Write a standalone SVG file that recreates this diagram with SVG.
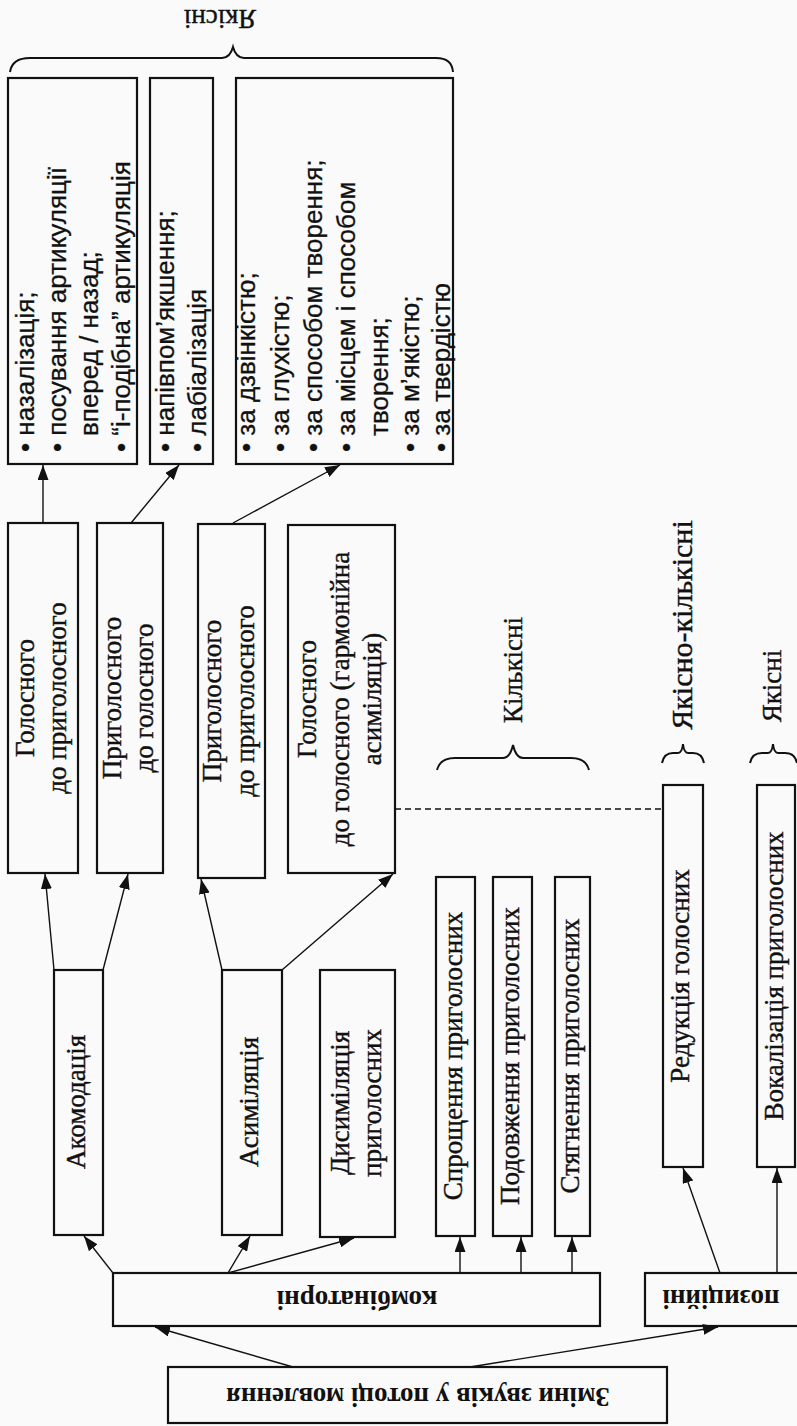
<svg xmlns="http://www.w3.org/2000/svg" width="797" height="1426" viewBox="0 0 797 1426">
<defs>
<style>
.bx{fill:none;stroke:#111;stroke-width:2.2}
.ln{fill:none;stroke:#111;stroke-width:1.4}
.br{fill:none;stroke:#111;stroke-width:2}
.sans{font-family:"Liberation Sans",Arial,sans-serif;font-size:26px;fill:#111;stroke:#111;stroke-width:0.3}
.serm{font-family:"Liberation Serif","Times New Roman",serif;font-size:27px;fill:#111;stroke:#111;stroke-width:0.4;text-anchor:middle}
.bold{font-family:"Liberation Serif","Times New Roman",serif;font-size:27px;font-weight:bold;fill:#111;text-anchor:middle}
</style>
<marker id="ah" viewBox="0 0 15 11" refX="15" refY="5.5" markerWidth="15" markerHeight="11" markerUnits="userSpaceOnUse" orient="auto">
<path d="M0,0 L15,5.5 L0,11 Z" fill="#111"/>
</marker>
</defs>
<rect x="0" y="0" width="797" height="1426" fill="#fafafa"/>

<g id="label-yakisni-top">
<path class="br" d="M10,72 Q12,58 30,58 L222,58 Q230,58 233,47 Q236,58 244,58 L436,58 Q452,58 453,72"/>
<text class="serm" transform="translate(220,10) rotate(180)">Якісні</text>
</g>

<g id="n-vowel-qualities">
<rect class="bx" x="8" y="78" width="129" height="386"/>
<text class="sans" transform="translate(34,452) rotate(-90)">• назалізація;</text>
<text class="sans" transform="translate(66,452) rotate(-90)">• посування артикуляції</text>
<text class="sans" transform="translate(98,436) rotate(-90)">вперед / назад;</text>
<text class="sans" transform="translate(130,452) rotate(-90)">• “і-подібна” артикуляція</text>
</g>

<g id="n-cons-vowel-qualities">
<rect class="bx" x="150" y="78" width="63" height="386"/>
<text class="sans" transform="translate(174,452) rotate(-90)">• напівпом’якшення;</text>
<text class="sans" transform="translate(206,452) rotate(-90)">• лабіалізація</text>
</g>

<g id="n-cons-cons-qualities">
<rect class="bx" x="236" y="78" width="217" height="386"/>
<text class="sans" transform="translate(255,452) rotate(-90)">• за дзвінкістю;</text>
<text class="sans" transform="translate(289,452) rotate(-90)">• за глухістю;</text>
<text class="sans" transform="translate(322,452) rotate(-90)">• за способом творення;</text>
<text class="sans" transform="translate(355,452) rotate(-90)">• за місцем і способом</text>
<text class="sans" transform="translate(388,436) rotate(-90)">творення;</text>
<text class="sans" transform="translate(419,452) rotate(-90)">• за м’якістю;</text>
<text class="sans" transform="translate(450,452) rotate(-90)">• за твердістю</text>
</g>

<g id="n-holosnoho-do-pryholosnoho">
<rect class="bx" x="8" y="523" width="70" height="350"/>
<text class="serm" transform="translate(34,698) rotate(-90)">Голосного</text>
<text class="serm" transform="translate(66,698) rotate(-90)">до приголосного</text>
</g>

<g id="n-pryholosnoho-do-holosnoho">
<rect class="bx" x="97" y="523" width="66" height="350"/>
<text class="serm" transform="translate(121,698) rotate(-90)">Приголосного</text>
<text class="serm" transform="translate(153,698) rotate(-90)">до голосного</text>
</g>

<g id="n-pryholosnoho-do-pryholosnoho">
<rect class="bx" x="198" y="524" width="67" height="354"/>
<text class="serm" transform="translate(221,701) rotate(-90)">Приголосного</text>
<text class="serm" transform="translate(254,701) rotate(-90)">до приголосного</text>
</g>

<g id="n-holosnoho-do-holosnoho">
<rect class="bx" x="288" y="525" width="107" height="348"/>
<text class="serm" transform="translate(316,699) rotate(-90)">Голосного</text>
<text class="serm" transform="translate(349,699) rotate(-90)">до голосного (гармонійна</text>
<text class="serm" transform="translate(381,699) rotate(-90)">асиміляція)</text>
</g>

<g id="n-akomodatsiia">
<rect class="bx" x="54" y="970" width="49" height="265"/>
<text class="serm" transform="translate(85,1102) rotate(-90)">Акомодація</text>
</g>

<g id="n-asymiliatsiia">
<rect class="bx" x="222" y="970" width="60" height="265"/>
<text class="serm" transform="translate(258,1102) rotate(-90)">Асиміляція</text>
</g>

<g id="n-dysymiliatsiia">
<rect class="bx" x="320" y="970" width="75" height="267"/>
<text class="serm" transform="translate(349,1103) rotate(-90)">Дисиміляція</text>
<text class="serm" transform="translate(381,1103) rotate(-90)">приголосних</text>
</g>

<g id="label-kilkisni">
<path class="br" d="M437,770 Q440,758 455,758 L503,758 Q510,758 513,745 Q516,758 523,758 L571,758 Q586,758 589,770"/>
<text class="serm" transform="translate(522,670) rotate(-90)">Кількісні</text>
</g>

<g id="n-sproshchennia">
<rect class="bx" x="436" y="877" width="39" height="359"/>
<text class="serm" transform="translate(462,1056) rotate(-90)">Спрощення приголосних</text>
</g>

<g id="n-podovzhennia">
<rect class="bx" x="493" y="877" width="39" height="359"/>
<text class="serm" transform="translate(519,1056) rotate(-90)">Подовження приголосних</text>
</g>

<g id="n-stiahnennia">
<rect class="bx" x="555" y="877" width="35" height="359"/>
<text class="serm" transform="translate(579,1056) rotate(-90)">Стягнення приголосних</text>
</g>

<g id="label-yakisno-kilkisni">
<path class="br" d="M662,763 Q664,753 673,753 L678,753 Q682,753 683,744 Q684,753 688,753 L693,753 Q702,753 704,763"/>
<text class="serm" transform="translate(692,625) rotate(-90)" style="font-size:30px">Якісно-кількісні</text>
</g>

<g id="n-reduktsiia">
<rect class="bx" x="663" y="785" width="40" height="382"/>
<text class="serm" transform="translate(689,976) rotate(-90)">Редукція голосних</text>
</g>

<g id="label-yakisni-right">
<path class="br" d="M750,763 Q752,753 762,753 L768,753 Q772,753 773,744 Q774,753 778,753 L785,753 Q795,753 797,763"/>
<text class="serm" transform="translate(781,686) rotate(-90)">Якісні</text>
</g>

<g id="n-vokalizatsiia">
<rect class="bx" x="757" y="785" width="38" height="382"/>
<text class="serm" transform="translate(783,976) rotate(-90)">Вокалізація приголосних</text>
</g>

<g id="n-kombinatorni">
<rect class="bx" x="113" y="1273" width="487" height="53"/>
<text class="bold" transform="translate(357,1291) rotate(180)">комбінаторні</text>
</g>

<g id="n-pozytsiini">
<rect class="bx" x="645" y="1273" width="160" height="53"/>
<text class="bold" transform="translate(721,1290) rotate(180)">позиційні</text>
</g>

<g id="n-root">
<rect class="bx" x="168" y="1367" width="499" height="56"/>
<text class="bold" transform="translate(418,1388) rotate(180)">Зміни звуків у потоці мовлення</text>
</g>

<g id="connectors">
<line class="ln" x1="43" y1="523" x2="43" y2="465" marker-end="url(#ah)"/>
<line class="ln" x1="131" y1="523" x2="179" y2="465" marker-end="url(#ah)"/>
<line class="ln" x1="233" y1="523" x2="340" y2="465" marker-end="url(#ah)"/>
<line class="ln" x1="54" y1="970" x2="45" y2="874" marker-end="url(#ah)"/>
<line class="ln" x1="103" y1="970" x2="128" y2="874" marker-end="url(#ah)"/>
<line class="ln" x1="222" y1="970" x2="201" y2="879" marker-end="url(#ah)"/>
<line class="ln" x1="282" y1="970" x2="393" y2="874" marker-end="url(#ah)"/>
<line class="ln" x1="113" y1="1273" x2="84" y2="1236" marker-end="url(#ah)"/>
<line class="ln" x1="228" y1="1273" x2="250" y2="1236" marker-end="url(#ah)"/>
<line class="ln" x1="228" y1="1273" x2="354" y2="1238" marker-end="url(#ah)"/>
<line class="ln" x1="460" y1="1273" x2="460" y2="1237" marker-end="url(#ah)"/>
<line class="ln" x1="521" y1="1273" x2="521" y2="1237" marker-end="url(#ah)"/>
<line class="ln" x1="572" y1="1273" x2="572" y2="1237" marker-end="url(#ah)"/>
<line class="ln" x1="720" y1="1273" x2="683" y2="1168" marker-end="url(#ah)"/>
<line class="ln" x1="777" y1="1273" x2="777" y2="1168" marker-end="url(#ah)"/>
<line class="ln" x1="293" y1="1367" x2="155" y2="1327" marker-end="url(#ah)"/>
<line class="ln" x1="470" y1="1367" x2="718" y2="1327" marker-end="url(#ah)"/>
<line class="ln" x1="395" y1="809" x2="663" y2="809" stroke-dasharray="6,4"/>
</g>
</svg>
